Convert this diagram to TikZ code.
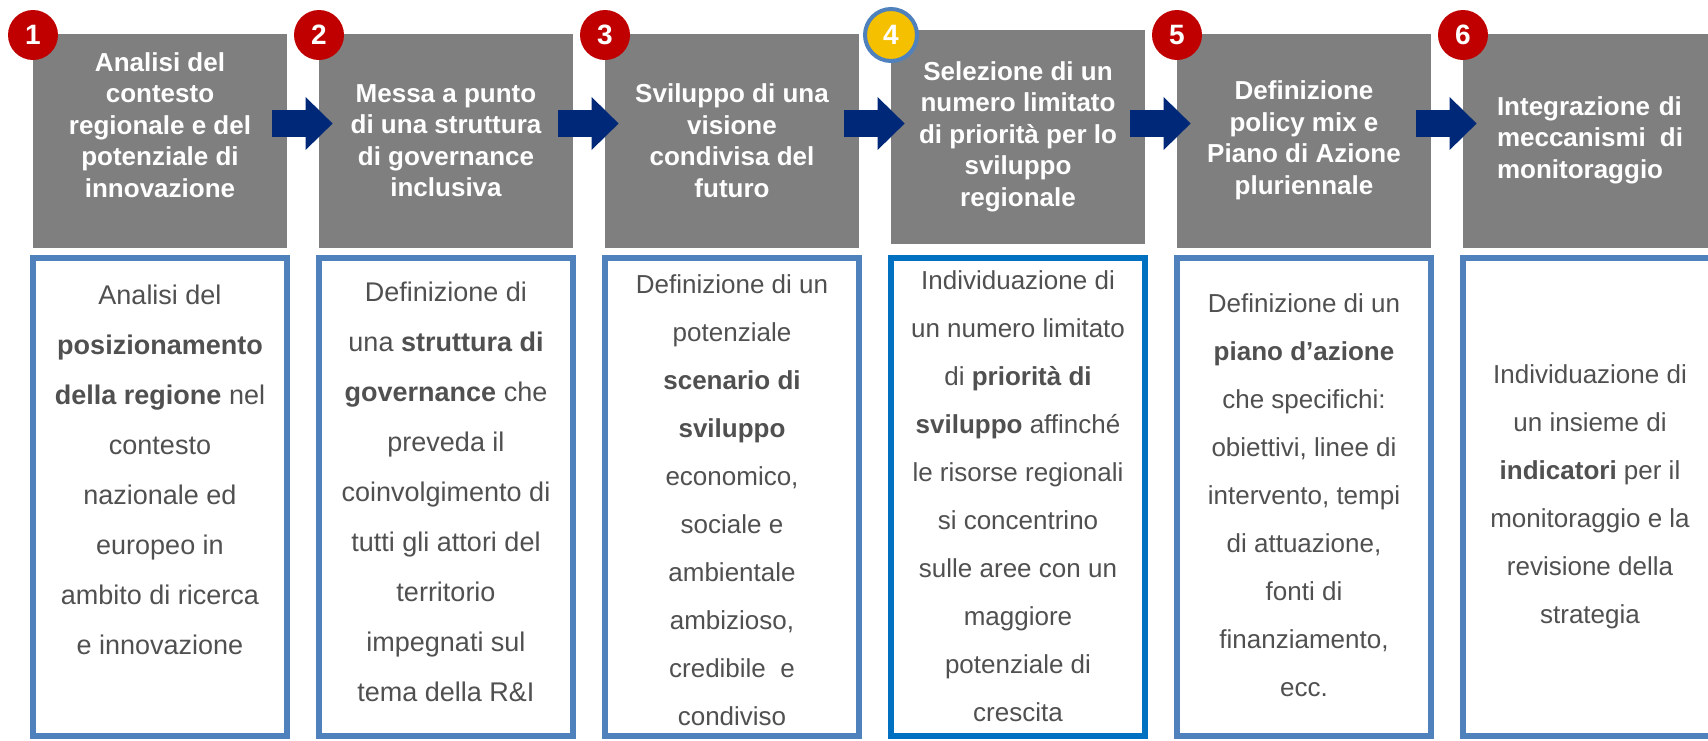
\documentclass[tikz,border=0pt]{standalone}
\usepackage{fontspec}
\setmainfont{Liberation Sans}
\usepackage{tikz}
\usetikzlibrary{calc, positioning, arrows.meta}
\usepackage{xcolor}
\definecolor{headgray}{RGB}{127, 127, 127}
\definecolor{stepred}{RGB}{192, 0, 0}
\definecolor{stepgold}{RGB}{244, 192, 0}
\definecolor{frameblue}{RGB}{79, 129, 189}
\definecolor{focusblue}{RGB}{0, 112, 192}
\definecolor{flownavy}{RGB}{0, 40, 120}
\definecolor{bodygray}{RGB}{80, 80, 80}

\begin{document}
\begin{tikzpicture}[x=0.5pt, y=-0.5pt,
  headbox/.style={fill=headgray, minimum width=127pt, minimum height=107pt, inner sep=0pt},
  headtext/.style={text=white, align=center, font=\fontsize{13}{15.75}\selectfont\bfseries},
  descbox/.style={draw=#1, line width=2.75pt, fill=white, minimum width=127pt, minimum height=239pt, inner sep=0pt},
  desctext/.style={text=bodygray, align=center, font=\fontsize{13}{24}\selectfont},
  stepnum/.style={circle, fill=stepred, text=white, minimum size=25pt, inner sep=0pt, font=\fontsize{14}{14}\selectfont\bfseries},
  flow/.style={flownavy, line width=13.5pt, -{Triangle[length=13.5pt, width=26.5pt, line width=0pt]}}]
  \path[use as bounding box, clip] (0,0) rectangle (1708,740);

  % Gray step headers and framed descriptions
  \foreach \i/\yc/\col in {1/141/frameblue, 2/141/frameblue, 3/141/frameblue, 4/137/focusblue, 5/141/frameblue, 6/141/frameblue} {
    \node[headbox] (head\i) at ({160+286*(\i-1)}, \yc) {};
    \node[descbox=\col] (desc\i) at ({160+286*(\i-1)}, 497) {};
  }

  % Arrows between the steps
  \coordinate (flowline) at (0, 123.5);
  \foreach \i/\j in {1/2, 2/3, 3/4, 4/5, 5/6}
    \draw[flow] ($(head\i.east |- flowline)+(-15,0)$) -- ($(head\j.west |- flowline)+(14,0)$);

  % Step numbers
  \foreach \i in {1, 2, 3, 5, 6}
    \node[stepnum] (num\i) at ({33+286*(\i-1)}, 35) {\i};
  \node[stepnum, fill=stepgold, draw=frameblue, line width=2pt, minimum size=26pt] (num4) at (891, 35) {4};

  % Header texts
  \node[headtext] (htext1) at (160, 125) {Analisi del\\contesto\\regionale e del\\potenziale di\\innovazione};
  \node[headtext] (htext2) at (446, 140.5) {Messa a punto\\di una struttura\\di governance\\inclusiva};
  \node[headtext] (htext3) at (732, 140.5) {Sviluppo di una\\visione\\condivisa del\\futuro};
  \node[headtext] (htext4) at (1018, 136.5) {Selezione di un\\numero limitato\\di priorità per lo\\sviluppo\\regionale};
  \node[headtext] (htext5) at (1304, 140.5) {Definizione\\policy mix e\\Piano di Azione\\pluriennale};
  \node[headtext, align=left, text width=93pt] (htext6) at (1590, 140) {Integrazione di\\meccanismi\hfill di\\monitoraggio};

  % Description texts
  \node[desctext, font=\fontsize{13.5}{25}\selectfont] (dtext1) at (160, 470)
    {Analisi del\\\textbf{posizionamento}\\\textbf{della regione} nel\\contesto\\nazionale ed\\europeo in\\ambito di ricerca\\e innovazione};
  \node[desctext, font=\fontsize{13.5}{25}\selectfont] (dtext2) at (446, 491.5)
    {Definizione di\\una \textbf{struttura di}\\\textbf{governance} che\\preveda il\\coinvolgimento di\\tutti gli attori del\\territorio\\impegnati sul\\tema della R\&I};
  \node[desctext] (dtext3) at (732, 500)
    {Definizione di un\\potenziale\\\textbf{scenario di}\\\textbf{sviluppo}\\economico,\\sociale e\\ambientale\\ambizioso,\\credibile\ \ e\\condiviso};
  \node[desctext] (dtext4) at (1018, 496.5)
    {Individuazione di\\un numero limitato\\di \textbf{priorità di}\\\textbf{sviluppo} affinché\\le risorse regionali\\si concentrino\\sulle aree con un\\maggiore\\potenziale di\\crescita};
  \node[desctext] (dtext5) at (1304, 495)
    {Definizione di un\\\textbf{piano d’azione}\\che specifichi:\\obiettivi, linee di\\intervento, tempi\\di attuazione,\\fonti di\\finanziamento,\\ecc.};
  \node[desctext] (dtext6) at (1590, 497)
    {Individuazione di\\un insieme di\\\textbf{indicatori} per il\\monitoraggio e la\\revisione della\\strategia};
\end{tikzpicture}
\end{document}
